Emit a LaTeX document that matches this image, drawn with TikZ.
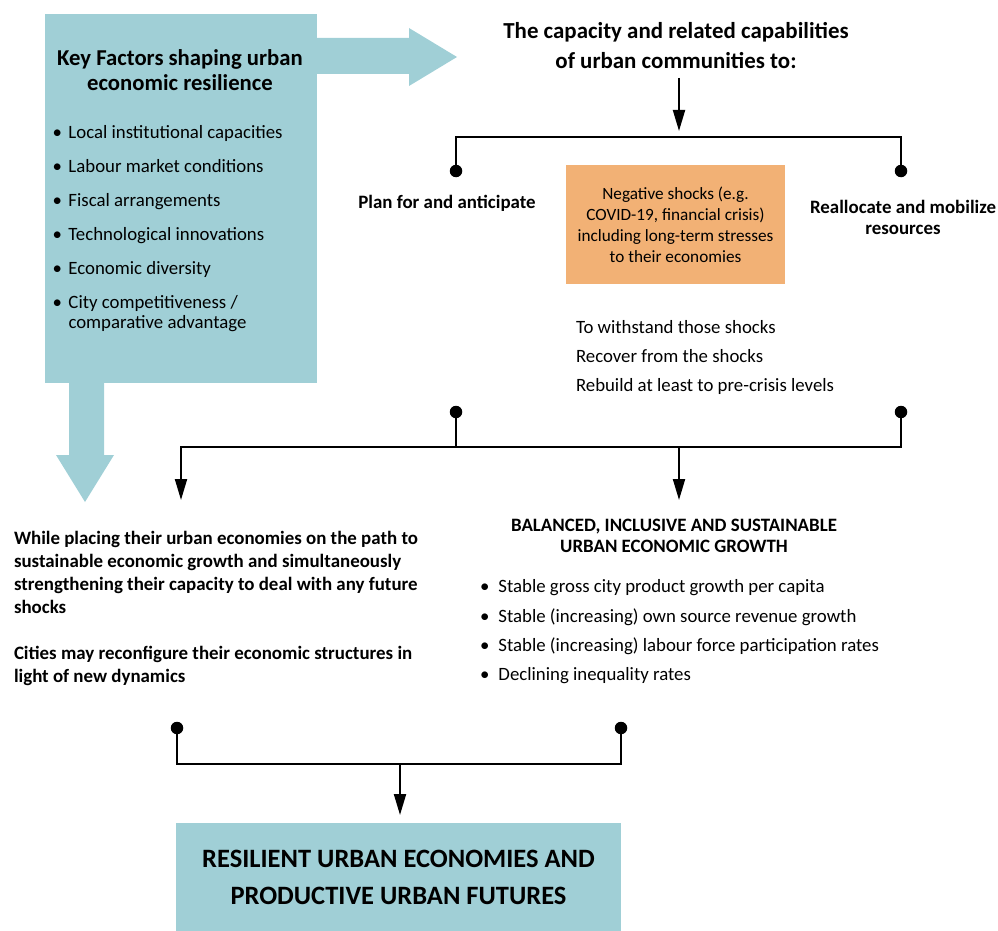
\documentclass[tikz,border=0pt]{standalone}
\usepackage{fontspec}
\setmainfont{Carlito}
\usetikzlibrary{arrows.meta,positioning}
\definecolor{factorteal}{RGB}{160,207,214}
\definecolor{shockorange}{RGB}{242,177,117}

\begin{document}
\begin{tikzpicture}[x=1pt,y=-1pt,line width=2pt,
    >={Triangle[width=12pt,length=21pt]},
    dot/.style={circle,fill,inner sep=0pt,minimum size=12.5pt},
    txt/.style={inner sep=0pt,anchor=base west,font=\fontsize{18.8}{22}\selectfont},
    head/.style={inner sep=0pt,align=center,font=\fontsize{18.9}{21}\selectfont\bfseries},
    bigbox/.style={fill=factorteal,inner sep=0pt,align=center}]
  \useasboundingbox (0,0) rectangle (998,931);
  % teal block arrows
  \fill[factorteal] (45,14) rectangle (317,383);
  \fill[factorteal] (310,38) -- (409,38) -- (409,28) -- (457,57) -- (409,86) -- (409,74) -- (310,74) -- cycle;
  \fill[factorteal] (69,380) -- (69,455) -- (56,455) -- (85,502) -- (114,455) -- (104,455) -- (104,380) -- cycle;

  \node[head,font=\fontsize{22.7}{25}\selectfont\bfseries] (factors) at (180,70) {Key Factors shaping urban\\economic resilience};
  \foreach \fac [count=\i] in {Local institutional capacities,Labour market conditions,Fiscal arrangements,Technological innovations,Economic diversity,City competitiveness /}
    \node[txt] (factor\i) at (67.5,104.5+34*\i) {\llap{•\hspace{6.5pt}}\fac};
  \node[txt] (factor6b) at (67.5,328.5) {comparative advantage};

  \node[head,font=\fontsize{22.9}{30}\selectfont\bfseries] (cap) at (676,46) {The capacity and related capabilities\\of urban communities to:};
  \coordinate (capout) at (679,78);
  \coordinate (bar1) at (679,137);
  \node[dot] (plan dot) at (456,171) {};
  \node[dot] (realloc dot) at (901,171) {};
  \draw[->,shorten >=6pt] (capout) -- (bar1);
  \draw (plan dot.center) |- (bar1) -| (realloc dot.center);
  \node[head] (plan) at (447,203) {Plan for and anticipate};
  \node[head] (realloc) at (903,217) {Reallocate and mobilize\\resources};
  \node[fill=shockorange,minimum width=219pt,minimum height=119pt,inner sep=0pt,align=center,
        font=\fontsize{17.2}{21}\selectfont] (shock) at (675.5,224.5)
        {Negative shocks (e.g.\\COVID-19, financial crisis)\\including long-term stresses\\to their economies};
  \node[txt] (withstand) at (575,333.5) {To withstand those shocks};
  \node[txt] (recover) at (575,362.5) {Recover from the shocks};
  \node[txt] (rebuild) at (575,391.5) {Rebuild at least to pre-crisis levels};

  \node[dot] (plan dot2) at (456,412) {};
  \node[dot] (realloc dot2) at (901,412) {};
  \coordinate (bar2l) at (181,447);
  \coordinate (bar2m) at (679,447);
  \coordinate (pathin) at (181,500);
  \coordinate (growthin) at (679,500);
  \draw[->] (realloc dot2.center) |- (bar2l) -- (pathin);
  \draw (plan dot2.center) -- (plan dot2 |- bar2l);
  \draw[->] (bar2m) -- (growthin);

  \node[head,align=left,font=\fontsize{18.9}{23}\selectfont\bfseries,anchor=west] (path) at (13,572)
    {While placing their urban economies on the path to\\sustainable economic growth and simultaneously\\strengthening their capacity to deal with any future\\shocks};
  \node[head,align=left,font=\fontsize{18.9}{23}\selectfont\bfseries,anchor=west] (reconfig) at (13,665.5)
    {Cities may reconfigure their economic structures in\\light of new dynamics};

  \node[head] (growth) at (674,536) {BALANCED, INCLUSIVE AND SUSTAINABLE\\URBAN ECONOMIC GROWTH};
  \foreach \goal [count=\i] in {Stable gross city product growth per capita,Stable (increasing) own source revenue growth,Stable (increasing) labour force participation rates,Declining inequality rates}
    \node[txt] (goal\i) at (497.5,563.5+29.3*\i) {\llap{•\hspace{9pt}}\goal};

  \node[dot] (path dot) at (177,728) {};
  \node[dot] (growth dot) at (621,728) {};
  \coordinate (bar3) at (400,764);
  \draw (path dot.center) |- (bar3) -| (growth dot.center);
  \node[bigbox,minimum width=445pt,minimum height=108pt,font=\fontsize{26.5}{37}\selectfont\bfseries] (futures) at (398.5,877)
    {RESILIENT URBAN ECONOMIES AND\\PRODUCTIVE URBAN FUTURES};
  \draw[->,shorten >=7pt] (bar3) -- (bar3 |- futures.north);
\end{tikzpicture}
\end{document}
